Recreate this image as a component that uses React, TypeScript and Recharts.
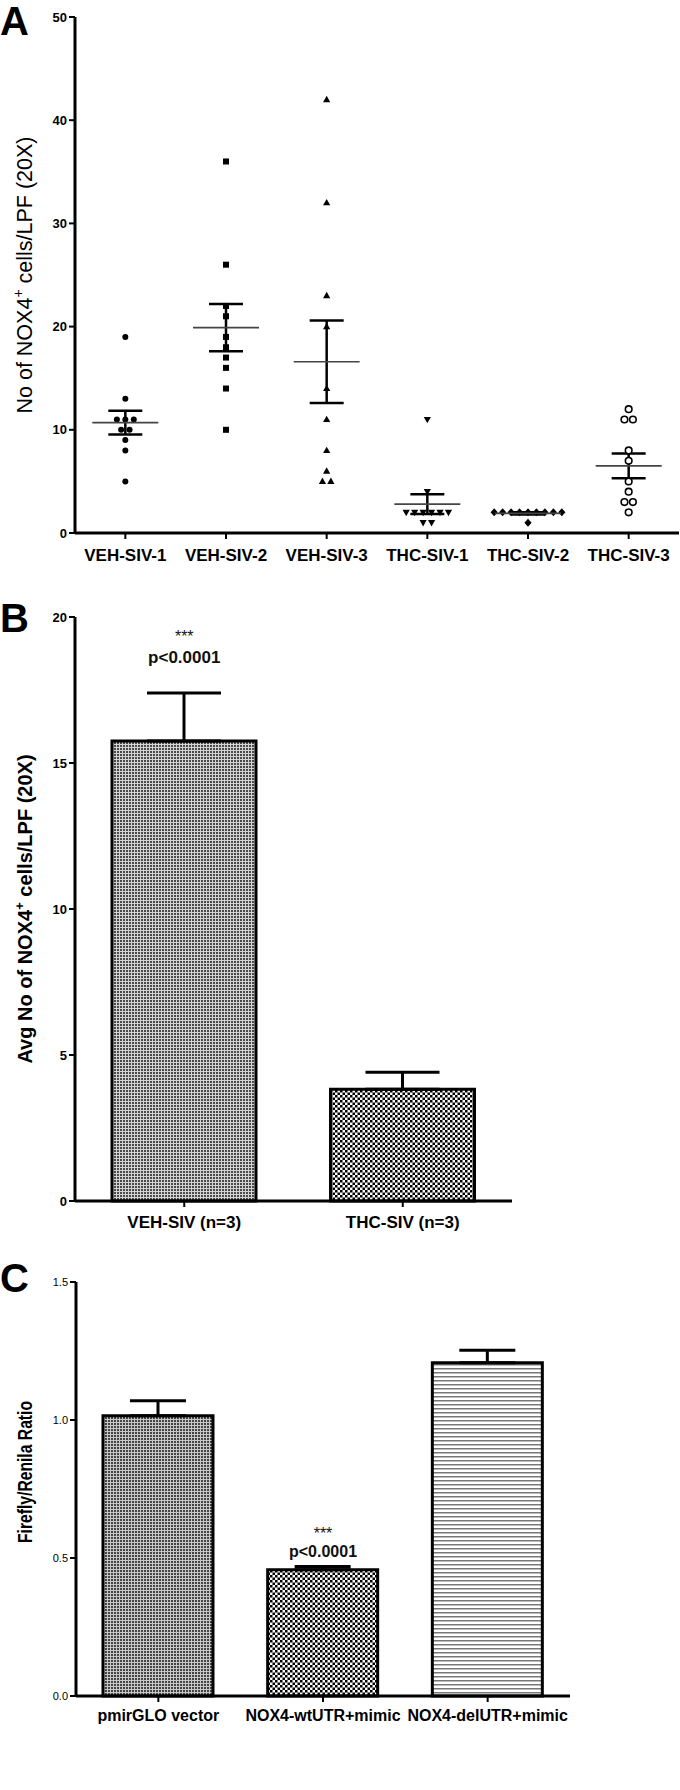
import React from 'react';
import {
  ScatterChart, Scatter, XAxis, YAxis, ErrorBar,
  BarChart, Bar, Cell, ReferenceDot,
} from 'recharts';

const FONT = '"Liberation Sans", Arial, Helvetica, sans-serif';

// ---- Panel A: individual counts per animal ----
const GROUPS = ['VEH-SIV-1', 'VEH-SIV-2', 'VEH-SIV-3', 'THC-SIV-1', 'THC-SIV-2', 'THC-SIV-3'];
const VEH1 = [19, 13, 11, 11, 11, 10, 10, 9, 8, 5];
const VEH2 = [36, 26, 22, 21, 19, 18, 17, 16, 14, 10];
const VEH3 = [42, 32, 23, 20, 14, 11, 8, 6, 5, 5];
const THC1 = [11, 4, 2, 2, 2, 2, 2, 2, 1, 1];
const THC2 = [2, 2, 2, 2, 2, 2, 2, 2, 2, 1];
const THC3 = [12, 11, 11, 8, 7, 5, 4, 3, 3, 2];
const GROUP_MEAN = [10.7, 19.9, 16.6, 2.8, 1.9, 6.5];
const GROUP_SEM = [1.15, 2.3, 4.0, 0.95, 0.1, 1.2];
const A_TICKS = [0, 10, 20, 30, 40, 50];

// ---- Panel B: averages ----
const B_CATS = ['VEH-SIV (n=3)', 'THC-SIV (n=3)'];
const B_MEANS = [15.75, 3.83];
const B_ERR = [1.65, 0.58];
const B_TICKS = [0, 5, 10, 15, 20];

// ---- Panel C: luciferase ----
const C_CATS = ['pmirGLO vector', 'NOX4-wtUTR+mimic', 'NOX4-delUTR+mimic'];
const C_MEANS = [1.015, 0.457, 1.207];
const C_ERR = [0.055, 0.012, 0.046];
const C_TICKS = [0, 0.5, 1, 1.5];

// spread equal values sideways so they don't sit on top of each other
const JITTER = 0.084;
const spread = (values: number[], gi: number) => {
  const counts: Record<number, number> = {};
  values.forEach(v => { counts[v] = (counts[v] || 0) + 1; });
  const seen: Record<number, number> = {};
  return values.map(v => {
    seen[v] = (seen[v] ?? -1) + 1;
    return { x: gi + 0.5 + (seen[v] - (counts[v] - 1) / 2) * JITTER, y: v };
  });
};

const dot = (p: any) => <circle cx={p.cx} cy={p.cy} r={3} fill="#000" />;
const square = (p: any) => <rect x={p.cx - 3} y={p.cy - 3} width={6} height={6} fill="#000" />;
const triUp = (p: any) => (
  <path d={`M${p.cx},${p.cy - 3.8}L${p.cx + 3.6},${p.cy + 2.6}L${p.cx - 3.6},${p.cy + 2.6}Z`} fill="#000" />
);
const triDown = (p: any) => (
  <path d={`M${p.cx},${p.cy + 3.8}L${p.cx + 3.6},${p.cy - 2.6}L${p.cx - 3.6},${p.cy - 2.6}Z`} fill="#000" />
);
const diamond = (p: any) => (
  <path d={`M${p.cx},${p.cy - 4}L${p.cx + 3.6},${p.cy}L${p.cx},${p.cy + 4}L${p.cx - 3.6},${p.cy}Z`} fill="#000" />
);
const openDot = (p: any) => <circle cx={p.cx} cy={p.cy} r={3.3} fill="#fff" stroke="#000" strokeWidth={1.6} />;
const meanLine = (p: any) => (
  <line x1={p.cx - 33} x2={p.cx + 33} y1={p.cy} y2={p.cy} stroke="#444" strokeWidth={1.6} />
);

const SERIES = [
  { data: VEH1, shape: dot },
  { data: VEH2, shape: square },
  { data: VEH3, shape: triUp },
  { data: THC1, shape: triDown },
  { data: THC2, shape: diamond },
  { data: THC3, shape: openDot },
];

const meanData = GROUPS.map((g, i) => ({ x: i + 0.5, y: GROUP_MEAN[i], sem: GROUP_SEM[i] }));

const axisLine = { stroke: '#000', strokeWidth: 3 };
const tickLine = { stroke: '#000', strokeWidth: 2 };

const yLabel = (text: string, sup: string, rest: string, size: number, weight: string,
  len?: number, shift = 0) => (props: any) => {
  const vb = props.viewBox;
  const x = vb.x + 32;
  const y = vb.y + vb.height / 2 + shift;
  return (
    <text x={x} y={y} transform={`rotate(-90 ${x} ${y})`} textAnchor="middle"
      fontSize={size} fontWeight={weight} fontFamily={FONT} fill="#000"
      textLength={len} lengthAdjust={len ? 'spacingAndGlyphs' : undefined}>
      <tspan>{text}</tspan>
      {sup ? <tspan fontSize={size * 0.65} dy={-size * 0.4}>{sup}</tspan> : null}
      {rest ? <tspan dy={sup ? size * 0.4 : 0}>{rest}</tspan> : null}
    </text>
  );
};

const note = (text: string, size: number, weight: string) => (props: any) => {
  const vb = props.viewBox;
  return (
    <text x={vb.x + vb.width / 2} y={vb.y + vb.height / 2} textAnchor="middle"
      fontSize={size} fontWeight={weight} fontFamily={FONT} fill="#111">{text}</text>
  );
};

const PanelLetter = ({ ch, top }: { ch: string; top: number }) => (
  <div style={{
    position: 'absolute', left: 0, top, fontFamily: FONT, fontWeight: 'bold',
    fontSize: 40, lineHeight: 1, color: '#000',
  }}>{ch}</div>
);

const PanelA = () => (
  <ScatterChart width={680} height={580} margin={{ top: 17, right: 1, bottom: 0, left: 0 }}>
    <XAxis type="number" dataKey="x" domain={[0, 6]} ticks={[0.5, 1.5, 2.5, 3.5, 4.5, 5.5]}
      interval={0} height={47} tickSize={6} tickMargin={10}
      tickFormatter={(v: number) => GROUPS[Math.floor(v)]}
      axisLine={axisLine} tickLine={tickLine}
      tick={{ fontSize: 17, fontWeight: 'bold', fill: '#000', fontFamily: FONT }} />
    <YAxis type="number" dataKey="y" domain={[0, 50]} ticks={A_TICKS} width={75}
      tickSize={6} tickMargin={2} axisLine={axisLine} tickLine={tickLine} interval={0}
      tick={{ fontSize: 13, fontWeight: 'bold', fill: '#000', fontFamily: FONT }}
      label={yLabel('No of NOX4', '+', ' cells/LPF (20X)', 21.5, 'normal')} />
    {SERIES.map((s, i) => (
      <Scatter key={GROUPS[i]} data={spread(s.data, i)} shape={s.shape} isAnimationActive={false} />
    ))}
    <Scatter data={meanData} shape={meanLine} isAnimationActive={false}>
      <ErrorBar dataKey="sem" direction="y" width={17} stroke="#000" strokeWidth={2.5} />
    </Scatter>
  </ScatterChart>
);

const bData = B_CATS.map((c, i) => ({ name: c, mean: B_MEANS[i], err: [0, B_ERR[i]] }));
const B_FILLS = ['url(#pFine)', 'url(#pCheck)'];

const PanelB = () => (
  <BarChart width={680} height={660} data={bData} margin={{ top: 37, right: 168, bottom: 0, left: 0 }}>
    <defs>
      <pattern id="pFine" width="3" height="3" patternUnits="userSpaceOnUse">
        <rect width="3" height="3" fill="#d4d4d4" />
        <rect width="2" height="2" fill="#4a4a4a" />
      </pattern>
      <pattern id="pCheck" width="5" height="5" patternUnits="userSpaceOnUse">
        <rect width="5" height="5" fill="#fff" />
        <rect width="2.5" height="2.5" fill="#000" />
        <rect x="2.5" y="2.5" width="2.5" height="2.5" fill="#000" />
      </pattern>
    </defs>
    <XAxis dataKey="name" height={39} tickSize={6} tickMargin={9} interval={0}
      axisLine={axisLine} tickLine={tickLine}
      tick={{ fontSize: 17, fontWeight: 'bold', fill: '#000', fontFamily: FONT }} />
    <YAxis type="number" domain={[0, 20]} ticks={B_TICKS} width={75} interval={0}
      tickSize={6} tickMargin={2} axisLine={axisLine} tickLine={tickLine}
      tick={{ fontSize: 13, fontWeight: 'bold', fill: '#000', fontFamily: FONT }}
      label={yLabel('Avg No of NOX4', '+', ' cells/LPF (20X)', 20, 'bold')} />
    <Bar dataKey="mean" barSize={144} stroke="#000" strokeWidth={3} isAnimationActive={false}>
      {bData.map((d, i) => <Cell key={d.name} fill={B_FILLS[i]} />)}
      <ErrorBar dataKey="err" width={37} stroke="#000" strokeWidth={3} />
    </Bar>
    <ReferenceDot x={B_CATS[0]} y={19.14} r={1} fill="none" stroke="none" label={note('***', 16, 'normal')} />
    <ReferenceDot x={B_CATS[0]} y={18.42} r={1} fill="none" stroke="none" label={note('p<0.0001', 17, 'bold')} />
  </BarChart>
);

const cData = C_CATS.map((c, i) => ({ name: c, mean: C_MEANS[i], err: [0, C_ERR[i]] }));
const C_FILLS = ['url(#pGray)', 'url(#pCheck2)', 'url(#pLines)'];

const PanelC = () => (
  <BarChart width={680} height={550} data={cData} margin={{ top: 42, right: 110, bottom: 54, left: 0 }}>
    <defs>
      <pattern id="pGray" width="3" height="3" patternUnits="userSpaceOnUse">
        <rect width="3" height="3" fill="#c8c8c8" />
        <rect width="2" height="2" fill="#444" />
      </pattern>
      <pattern id="pCheck2" width="5" height="5" patternUnits="userSpaceOnUse">
        <rect width="5" height="5" fill="#fff" />
        <rect width="2.5" height="2.5" fill="#000" />
        <rect x="2.5" y="2.5" width="2.5" height="2.5" fill="#000" />
      </pattern>
      <pattern id="pLines" width="4" height="4" patternUnits="userSpaceOnUse">
        <rect width="4" height="4" fill="#fff" />
        <rect width="4" height="1.5" fill="#777" />
      </pattern>
    </defs>
    <XAxis dataKey="name" height={40} tickSize={6} tickMargin={8} interval={0}
      axisLine={axisLine} tickLine={tickLine}
      tick={{ fontSize: 16, fontWeight: 'bold', fill: '#000', fontFamily: FONT }} />
    <YAxis type="number" domain={[0, 1.5]} ticks={C_TICKS} width={76} interval={0}
      tickSize={6} tickMargin={2} axisLine={axisLine} tickLine={tickLine}
      tickFormatter={(v: number) => v.toFixed(1)}
      tick={{ fontSize: 11, fill: '#000', fontFamily: FONT }}
      label={yLabel('Firefly/Renila Ratio', '', '', 20, 'bold', 142, -17)} />
    <Bar dataKey="mean" barSize={110} stroke="#000" strokeWidth={3} isAnimationActive={false}>
      {cData.map((d, i) => <Cell key={d.name} fill={C_FILLS[i]} />)}
      <ErrorBar dataKey="err" width={28} stroke="#000" strokeWidth={3} />
    </Bar>
    <ReferenceDot x={C_CATS[1]} y={0.568} r={1} fill="none" stroke="none" label={note('***', 16, 'normal')} />
    <ReferenceDot x={C_CATS[1]} y={0.503} r={1} fill="none" stroke="none" label={note('p<0.0001', 16, 'bold')} />
  </BarChart>
);

export default function App() {
  return (
    <div style={{ position: 'absolute', left: 0, top: 0, width: 680, height: 1790, background: '#fff', overflow: 'hidden' }}>
      <div style={{ position: 'absolute', left: 0, top: 0 }}><PanelA /></div>
      <div style={{ position: 'absolute', left: 0, top: 580 }}><PanelB /></div>
      <div style={{ position: 'absolute', left: 0, top: 1240 }}><PanelC /></div>
      <PanelLetter ch="A" top={1} />
      <PanelLetter ch="B" top={598} />
      <PanelLetter ch="C" top={1258} />
    </div>
  );
}
